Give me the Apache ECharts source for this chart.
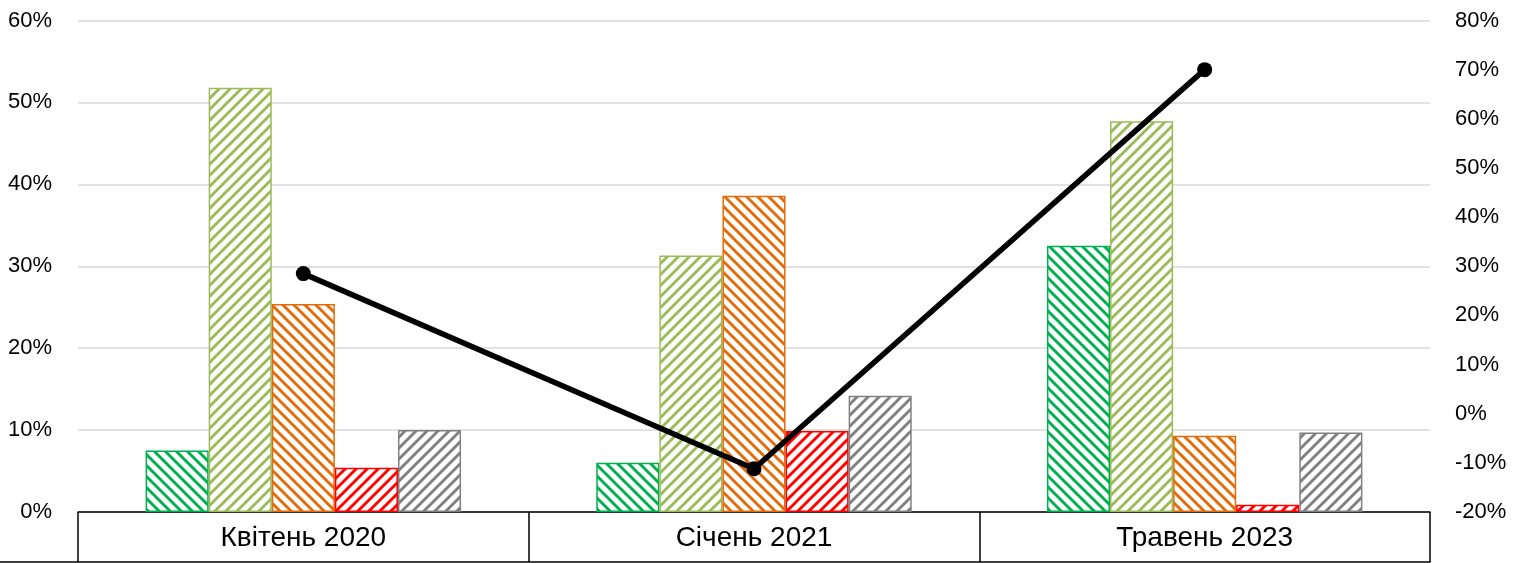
<!DOCTYPE html>
<html>
<head>
<meta charset="utf-8">
<script src="https://cdn.jsdelivr.net/npm/echarts@6/dist/echarts.min.js"></script>
<style>
html,body{margin:0;padding:0;background:#fff;}
#chart{width:1518px;height:563px;}
</style>
</head>
<body>
<div id="chart"></div>
<script>
// ---- data ----
const categories = ['Квітень 2020', 'Січень 2021', 'Травень 2023'];
const seriesA = [7.5, 6.0, 32.5];   // green
const seriesB = [51.8, 31.3, 47.7]; // light green
const seriesC = [25.4, 38.6, 9.3];  // orange
const seriesD = [5.4, 9.9, 0.9];    // red
const seriesE = [10.0, 14.2, 9.7];  // gray
const lineValues = [28.5, -11.2, 70.0]; // right axis
const leftTicks = {min: 0, max: 60, interval: 10};
const rightTicks = {min: -20, max: 80, interval: 10};

function hatch(color, dir) {
  const s = 11;
  const c = document.createElement('canvas');
  c.width = s; c.height = s;
  const g = c.getContext('2d');
  g.fillStyle = '#fff';
  g.fillRect(0, 0, s, s);
  g.strokeStyle = color;
  g.lineWidth = 2.9;
  g.beginPath();
  for (let k = -1; k <= 1; k++) {
    if (dir === 'down') {
      g.moveTo(k * s - 1, -1); g.lineTo(k * s + s + 1, s + 1);
    } else {
      g.moveTo(k * s - 1, s + 1); g.lineTo(k * s + s + 1, -1);
    }
  }
  g.stroke();
  return {image: c, repeat: 'repeat'};
}

const FONT = 'Liberation Sans';
const H = 563, GRID_BOTTOM = 51, BOX_H = 50, GRID_LEFT = 78;
function bar(name, data, color, dir) {
  return {
    name, type: 'bar', data, xAxisIndex: 0, yAxisIndex: 0,
    barGap: '0%', barCategoryGap: '30%',
    itemStyle: {color: hatch(color, dir), borderColor: color, borderWidth: 1.5},
    emphasis: {disabled: true}
  };
}

const chart = echarts.init(document.getElementById('chart'), null, {renderer: 'canvas'});
chart.setOption({
  animation: false,
  backgroundColor: '#fff',
  grid: {left: GRID_LEFT, right: 88, top: 20.5, bottom: GRID_BOTTOM, containLabel: false},
  graphic: [{
    type: 'line', silent: true,
    shape: {x1: 0, y1: H - GRID_BOTTOM + BOX_H, x2: GRID_LEFT, y2: H - GRID_BOTTOM + BOX_H},
    style: {stroke: '#000', lineWidth: 1.5}
  }],
  xAxis: [{
    type: 'category', data: categories, position: 'bottom',
    axisLine: {show: true, onZero: false, lineStyle: {color: '#000', width: 1.5}},
    axisTick: {show: true, interval: 0, length: BOX_H, inside: false, alignWithLabel: false, lineStyle: {color: '#000', width: 1.5}},
    axisLabel: {show: true, interval: 0, fontFamily: FONT, fontSize: 28, color: '#000', margin: 12},
    splitLine: {show: false}
  }, {
    type: 'category', data: categories, position: 'bottom', offset: BOX_H,
    axisLine: {show: true, onZero: false, lineStyle: {color: '#000', width: 1.5}},
    axisTick: {show: false}, axisLabel: {show: false}, splitLine: {show: false}
  }],
  yAxis: [{
    type: 'value', min: leftTicks.min, max: leftTicks.max, interval: leftTicks.interval,
    axisLine: {show: false}, axisTick: {show: false},
    axisLabel: {formatter: '{value}%', fontFamily: FONT, fontSize: 22, color: '#000', margin: 26},
    splitLine: {show: true, lineStyle: {color: '#d9d9d9', width: 1.5}}
  }, {
    type: 'value', position: 'right', min: rightTicks.min, max: rightTicks.max, interval: rightTicks.interval,
    axisLine: {show: false}, axisTick: {show: false},
    axisLabel: {formatter: '{value}%', fontFamily: FONT, fontSize: 22, color: '#000', margin: 25},
    splitLine: {show: false}
  }],
  series: [
    bar('A', seriesA, '#00B050', 'down'),
    bar('B', seriesB, '#9BBB59', 'up'),
    bar('C', seriesC, '#E36C09', 'down'),
    bar('D', seriesD, '#FF0000', 'up'),
    bar('E', seriesE, '#808080', 'up'),
    {
      name: 'L', type: 'line', data: lineValues, xAxisIndex: 0, yAxisIndex: 1,
      symbol: 'circle', symbolSize: 15, z: 10,
      lineStyle: {color: '#000', width: 5.5},
      itemStyle: {color: '#000'},
      emphasis: {disabled: true}
    }
  ]
});
</script>
</body>
</html>
